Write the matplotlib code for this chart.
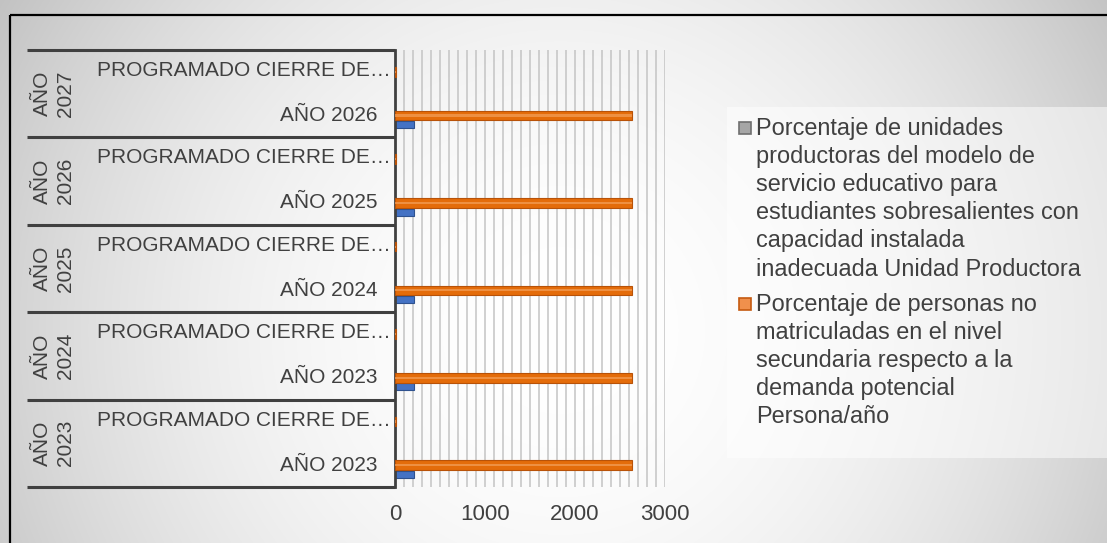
import numpy as np
import matplotlib
matplotlib.use("Agg")
import matplotlib.pyplot as plt
from matplotlib.patches import Rectangle
from matplotlib.transforms import blended_transform_factory

plt.rcParams['font.family'] = ['Liberation Sans', 'DejaVu Sans']

# %% data (bottom to top)
group_labels = ["AÑO\n2023", "AÑO\n2024", "AÑO\n2025", "AÑO\n2026", "AÑO\n2027"]
cat_labels = ["AÑO 2023", "PROGRAMADO CIERRE DE…",
              "AÑO 2023", "PROGRAMADO CIERRE DE…",
              "AÑO 2024", "PROGRAMADO CIERRE DE…",
              "AÑO 2025", "PROGRAMADO CIERRE DE…",
              "AÑO 2026", "PROGRAMADO CIERRE DE…"]
orange_vals = [2630, 6, 2630, 6, 2630, 6, 2630, 6, 2630, 6]
blue_vals = [215, 4, 215, 4, 215, 4, 215, 4, 215, 4]
legend_labels = [
    ["Porcentaje de unidades", "productoras del modelo de", "servicio educativo para",
     "estudiantes sobresalientes con", "capacidad instalada",
     "inadecuada Unidad Productora"],
    ["Porcentaje de personas no", "matriculadas en el nivel",
     "secundaria respecto a la", "demanda potencial", "Persona/año"],
]
legend_colors = [("#a6a6a6", "#6f6f6f"), ("#f0904c", "#c55a11")]
xticks = [0, 1000, 2000, 3000]

W, H = 1107, 543
txt = "#404040"
fig = plt.figure(figsize=(W / 100, H / 100), dpi=100)

# %% background (pixel coords)
bg = fig.add_axes([0, 0, 1, 1], zorder=0)
yy, xx = np.mgrid[0:H, 0:W]
d = np.hypot(xx - 560, yy - 330)
shade = np.clip(255 - 57 * (d / 630) ** 2, 0, 255) / 255
bg.imshow(np.dstack([shade] * 3), extent=[0, W, H, 0], aspect='auto')
bg.set_xlim(0, W)
bg.set_ylim(H, 0)
bg.axis('off')
bg.add_patch(Rectangle((10, 15), W + 20, H + 20, fill=False, ec='black', lw=1.6))

# legend box and entries
bg.add_patch(Rectangle((727, 107), W, 351, fc='white', ec='none', alpha=0.5))
first_line = [128, 304]
for i, lines in enumerate(legend_labels):
    fc, ec = legend_colors[i]
    y0 = first_line[i]
    bg.add_patch(Rectangle((739, y0 - 6), 12, 12, fc=fc, ec=ec, lw=1.2))
    for j, line in enumerate(lines):
        bg.text(756, y0 + j * 28.2, line, fontsize=16.9, color=txt,
                va='center', ha='left')

# %% main plot area
ax = fig.add_axes([395 / W, 1 - 487 / H, 270 / W, 437 / H], zorder=1)
ax.patch.set_visible(False)
y = np.arange(len(cat_labels))
ax.vlines(np.arange(100, 3001, 100), -0.5, 9.5, color='#c4c4c4', lw=1.1, zorder=1)
ax.barh(y + 0.0, orange_vals, height=0.22, color='#e46c0a', ec='#b85208',
        lw=0.8, zorder=3)
ax.barh(y + 0.0, orange_vals, height=0.05, color='#f3a05a', lw=0, zorder=4,
        alpha=0.7)
ax.barh(y - 0.21, blue_vals, height=0.16, color='#4472c4', ec='#2f528f',
        lw=0.8, zorder=2)
ax.set_xlim(0, 2980)
ax.set_ylim(-0.5, 9.5)
ax.set_yticks([])
ax.set_xticks(xticks)
ax.set_xticklabels([str(t) for t in xticks])
ax.tick_params(axis='x', length=0, pad=12, labelsize=16, labelcolor=txt)
for s in ['top', 'right', 'bottom']:
    ax.spines[s].set_visible(False)
ax.spines['left'].set_color('#404040')
ax.spines['left'].set_linewidth(2)

# category axis labels (x in pixels, y in data)
tr = blended_transform_factory(bg.transData, ax.transData)
for i, lab in enumerate(cat_labels):
    if lab.startswith("PROGRAMADO"):
        ax.text(391, i + 0.03, lab, transform=tr, ha='right', va='center',
                fontsize=15, color=txt, clip_on=False)
    else:
        ax.text(377, i, lab, transform=tr, ha='right', va='center',
                fontsize=15, color=txt, clip_on=False)
for g, lab in enumerate(group_labels):
    ax.text(54, 2 * g + 0.5, lab, transform=tr, ha='center', va='center',
            rotation=90, fontsize=15, color=txt, linespacing=1.25,
            multialignment='center', clip_on=False)
for b in np.arange(-0.5, 10, 2):
    ax.plot([27, 395], [b, b], transform=tr, color='#404040', lw=2.2,
            clip_on=False, solid_capstyle='butt')

fig.savefig("out.png", dpi=100)
